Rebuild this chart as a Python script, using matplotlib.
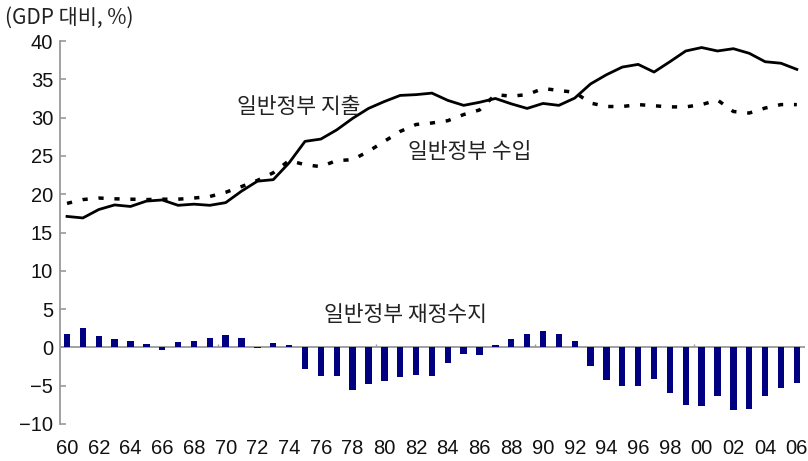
import numpy as np
import matplotlib.pyplot as plt

plt.rcParams['font.family'] = ['Noto Sans CJK KR', 'DejaVu Sans']

years = np.arange(1960, 2007)

# 일반정부 지출 (GDP 대비, %)
expenditure = [17.1, 16.9, 18.0, 18.6, 18.4, 19.1, 19.25, 18.55, 18.7, 18.55,
               18.9, 20.4, 21.7, 21.9, 24.1, 26.9, 27.2, 28.4, 29.9, 31.2,
               32.1, 32.9, 33.0, 33.2, 32.25, 31.6, 32.0, 32.5, 31.8, 31.2,
               31.85, 31.6, 32.55, 34.4, 35.6, 36.6, 36.95, 35.95, 37.3, 38.7,
               39.15, 38.7, 39.0, 38.4, 37.3, 37.1, 36.3]

# 일반정부 수입
revenue = [18.8, 19.3, 19.5, 19.4, 19.35, 19.3, 19.35, 19.35, 19.5, 19.7,
           20.25, 21.0, 21.8, 22.8, 24.4, 23.85, 23.6, 24.4, 24.5, 25.6,
           26.9, 28.2, 29.1, 29.3, 29.6, 30.4, 31.0, 33.0, 32.8, 33.0,
           33.8, 33.55, 33.3, 31.9, 31.45, 31.45, 31.7, 31.55, 31.4, 31.4,
           31.7, 32.3, 30.8, 30.6, 31.25, 31.7, 31.7]

# 일반정부 재정수지
balance = [1.8, 2.5, 1.5, 1.1, 0.8, 0.5, -0.4, 0.75, 0.8, 1.2,
           1.65, 1.2, -0.1, 0.6, 0.35, -2.8, -3.7, -3.8, -5.5, -4.8,
           -4.4, -3.9, -3.55, -3.7, -2.05, -0.9, -0.95, 0.35, 1.1, 1.8,
           2.1, 1.8, 0.8, -2.4, -4.25, -5.1, -5.1, -4.15, -6.0, -7.5,
           -7.7, -6.35, -8.2, -8.0, -6.35, -5.35, -4.65]

decade_marks = [1969.5, 1979.5, 1989.5, 1999.5]
xtick_years = np.arange(1960, 2007, 2)
xtick_labels = [f"{y % 100:02d}" for y in xtick_years]
yticks = np.arange(-10, 41, 5)

fig = plt.figure(figsize=(8.08, 4.61), dpi=100)
ax = fig.add_axes([0.0743, 0.0803, 0.9217, 0.8307])

ax.bar(years, balance, width=0.4, color='#000080', zorder=2)
ax.axhline(0, color='#9a9a9a', lw=1.3, zorder=1)
ax.vlines(decade_marks, 0, 0.45, color='#9a9a9a', lw=1.0, zorder=1)

ax.plot(years, expenditure, color='black', lw=2.0, solid_joinstyle='round', zorder=3)
ax.plot(years, revenue, color='black', lw=2.5, linestyle=(0, (1.5, 3.1)), zorder=3)

ax.set_xlim(1959.56, 2006.5)
ax.set_ylim(-10, 40)

for side in ['top', 'right', 'bottom']:
    ax.spines[side].set_visible(False)
ax.spines['left'].set_color('#9a9a9a')
ax.spines['left'].set_linewidth(1.3)

ax.set_yticks(yticks)
ax.set_yticklabels([str(v).replace('-', '\u2212') for v in yticks], fontsize=14.5,
                   family=['Liberation Sans', 'DejaVu Sans'], color='#111111')
ax.tick_params(axis='y', direction='in', length=4, width=1.2, color='#9a9a9a', pad=5)

ax.set_xticks(xtick_years)
ax.set_xticklabels(xtick_labels, fontsize=14.5, family=['Liberation Sans'], color='#111111')
ax.tick_params(axis='x', length=0, pad=11)

txt_color = '#222222'
ax.text(1970.7, 31.4, '일반정부 지출', fontsize=15.5, color=txt_color, ha='left', va='center')
ax.text(1981.5, 25.5, '일반정부 수입', fontsize=15.5, color=txt_color, ha='left', va='center')
ax.text(1976.2, 4.2, '일반정부 재정수지', fontsize=15.5, color=txt_color, ha='left', va='center')
fig.text(0.006, 0.962, '(GDP 대비, %)', fontsize=15, color=txt_color, ha='left', va='center')

fig.savefig('out.png', dpi=100)
